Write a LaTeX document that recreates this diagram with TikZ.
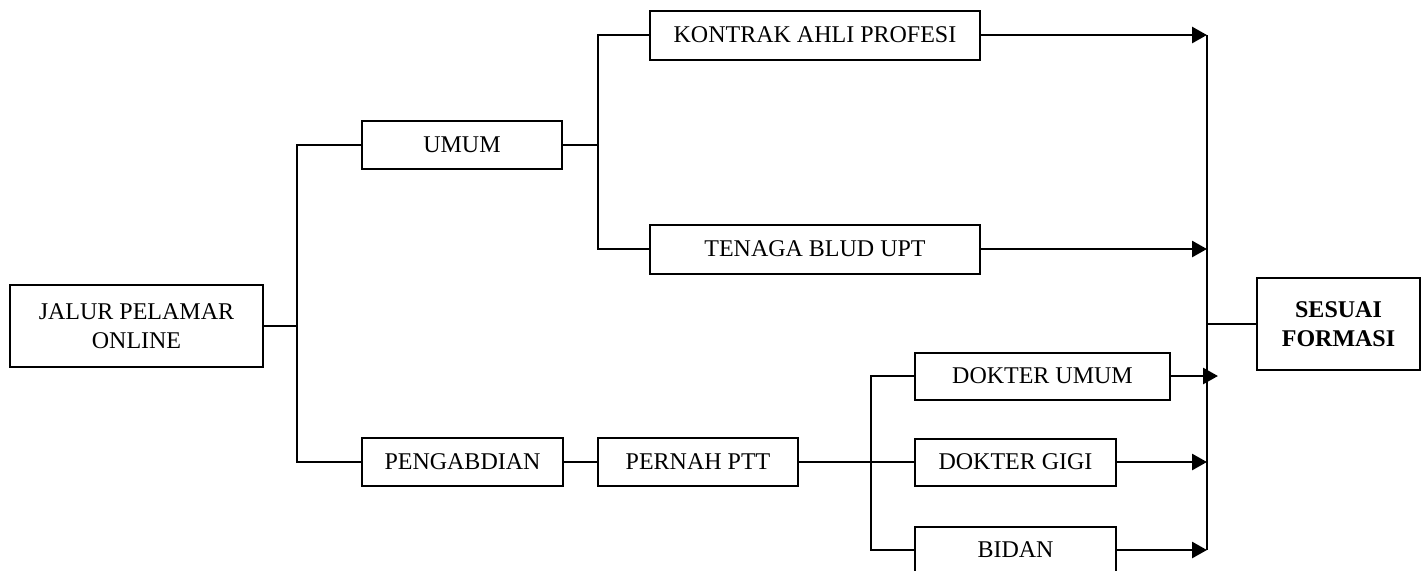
\documentclass[tikz,border=0pt]{standalone}
\usepackage{fontspec}
\setmainfont{Liberation Serif}
\usetikzlibrary{arrows.meta}
\tikzset{
	box/.style={draw, line width=1pt, inner sep=2pt, align=center, font=\fontsize{12}{14.5}\selectfont},
	arr/.style={line width=1.4pt, -{Triangle[length=7.5pt,width=8pt]}}
}
\begin{document}
\begin{tikzpicture}[x=0.5pt,y=-0.5pt,line width=1pt]
			\useasboundingbox (0,0) rectangle (1426,570);
			% boxes
			\node[box, minimum width=126.5pt, minimum height=41pt] (jalur) at (136.5,326) {JALUR PELAMAR\\ONLINE};
			\node[box, minimum width=100pt, minimum height=24pt] (umum) at (462,145) {UMUM};
			\node[box, minimum width=165pt, minimum height=24.5pt] (kontrak) at (815,35) {KONTRAK AHLI PROFESI};
			\node[box, minimum width=165pt, minimum height=24.5pt] (tenaga) at (815,249) {TENAGA BLUD UPT};
			\node[box, minimum width=100.5pt, minimum height=24pt] (pengabdian) at (462.5,462) {PENGABDIAN};
			\node[box, minimum width=100pt, minimum height=24pt] (pernah) at (698,462) {PERNAH PTT};
			\node[box, minimum width=127.5pt, minimum height=23.5pt] (dumum) at (1042.5,376) {DOKTER UMUM};
			\node[box, minimum width=100.5pt, minimum height=23.5pt] (dgigi) at (1015.5,462) {DOKTER GIGI};
			\node[box, minimum width=100.5pt, minimum height=23.5pt] (bidan) at (1015.5,550) {BIDAN};
			\node[box, minimum width=81.5pt, minimum height=46pt] (sesuai) at (1338.5,324) {\textbf{SESUAI}\\\textbf{FORMASI}};
			% branch points
			\coordinate (ja) at (297,0);
			\coordinate (jb) at (598,0);
			\coordinate (jc) at (871,0);
			\coordinate (top) at (1207,35);
			\coordinate (bot) at (1207,550);
			\coordinate (over) at (1218,376);
			% online
			\draw (jalur.east) -- (jalur.east -| ja);
			\draw (umum.west) -| (pengabdian.west -| ja) -- (pengabdian.west);
			% umum
			\draw (umum.east) -- (umum.east -| jb);
			\draw (kontrak.west) -| (tenaga.west -| jb) -- (tenaga.west);
			% pengabdian
			\draw (pengabdian) -- (pernah);
			\draw (pernah.east) -- (dgigi.west);
			\draw (dumum.west) -| (bidan.west -| jc) -- (bidan.west);
			% to formasi
			\foreach \n in {kontrak,tenaga,dgigi,bidan}
				\draw[arr] (\n.east) -- (\n.east -| top);
			\draw[arr] (dumum.east) -- (over);
			\draw (top) -- (bot);
			\draw (sesuai.west) -- (sesuai.west -| top);
\end{tikzpicture}
\end{document}
